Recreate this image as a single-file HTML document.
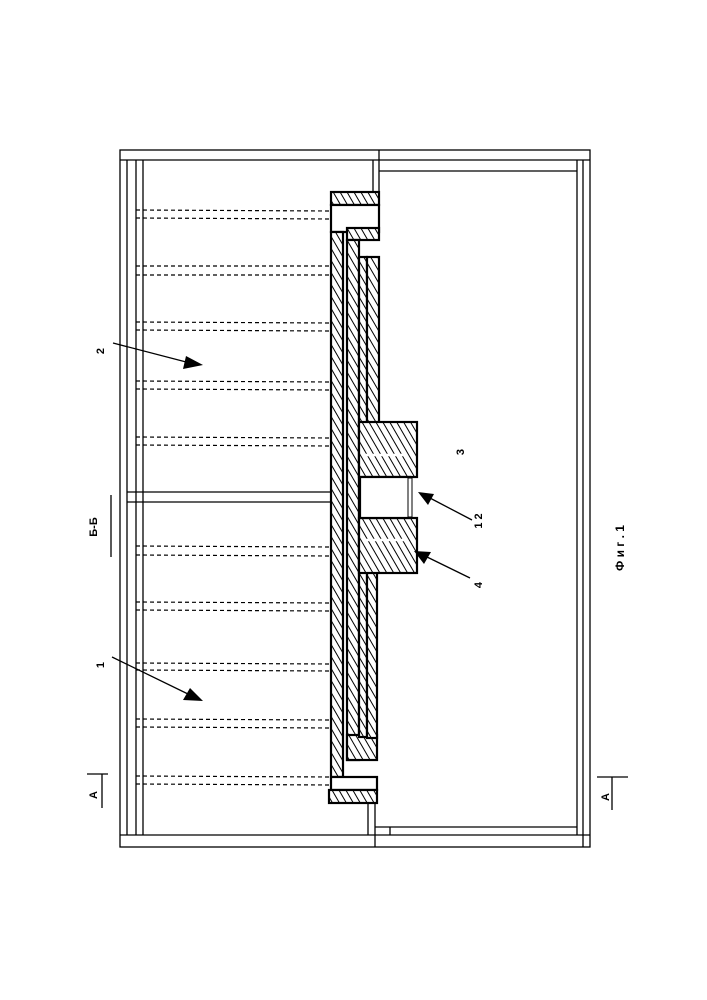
<!DOCTYPE html>
<html><head><meta charset="utf-8"><style>
html,body{margin:0;padding:0;background:#fff;}
svg{display:block;}
text{font-family:"Liberation Sans",sans-serif;font-weight:bold;fill:#000;}
</style></head><body>
<svg width="707" height="1000" viewBox="0 0 707 1000" xmlns="http://www.w3.org/2000/svg">
<defs>
<pattern id="h" patternUnits="userSpaceOnUse" width="6" height="6" patternTransform="rotate(-30)">
<rect width="6" height="6" fill="#fff"/><line x1="0" y1="0" x2="0" y2="6" stroke="#000" stroke-width="2"/>
</pattern>
</defs>
<g stroke="#000" stroke-width="1.3" fill="none">
<rect x="120" y="150" width="470" height="697"/>
<line x1="120" y1="160" x2="590" y2="160"/>
<line x1="120" y1="835" x2="590" y2="835"/>
<line x1="127" y1="160" x2="127" y2="835"/>
<line x1="136" y1="160" x2="136" y2="835"/>
<line x1="143" y1="160" x2="143" y2="835"/>
<line x1="577" y1="160" x2="577" y2="835"/>
<line x1="583" y1="160" x2="583" y2="847"/>
<line x1="379" y1="150" x2="379" y2="192"/>
<line x1="373" y1="160" x2="373" y2="192"/>
<line x1="379" y1="171" x2="577" y2="171"/>
<line x1="375" y1="827" x2="577" y2="827"/>
<line x1="368" y1="803" x2="368" y2="835"/>
<line x1="375" y1="803" x2="375" y2="847"/>
<line x1="390" y1="827" x2="390" y2="835"/>
<line x1="127" y1="492" x2="330" y2="492"/>
<line x1="127" y1="502" x2="330" y2="502"/>
</g>
<g stroke="#000" stroke-width="1.2" stroke-dasharray="4,3">
<line x1="136" y1="210" x2="330" y2="211"/><line x1="136" y1="218" x2="330" y2="219"/>
<line x1="136" y1="266" x2="330" y2="266"/><line x1="136" y1="275" x2="330" y2="275"/>
<line x1="136" y1="322" x2="330" y2="323"/><line x1="136" y1="330" x2="330" y2="331"/>
<line x1="136" y1="381" x2="330" y2="382"/><line x1="136" y1="389" x2="330" y2="390"/>
<line x1="136" y1="437" x2="330" y2="438"/><line x1="136" y1="445" x2="330" y2="446"/>
<line x1="136" y1="546" x2="330" y2="547"/><line x1="136" y1="555" x2="330" y2="556"/>
<line x1="136" y1="602" x2="330" y2="603"/><line x1="136" y1="610" x2="330" y2="611"/>
<line x1="136" y1="663" x2="330" y2="664"/><line x1="136" y1="670" x2="330" y2="671"/>
<line x1="136" y1="719" x2="330" y2="720"/><line x1="136" y1="727" x2="330" y2="728"/>
<line x1="136" y1="776" x2="330" y2="777"/><line x1="136" y1="784" x2="330" y2="785"/>
</g>
<g stroke="#000" stroke-width="2.2">
<rect x="331" y="192" width="48" height="13" fill="url(#h)"/>
<rect x="331" y="205" width="48" height="27" fill="#fff"/>
<rect x="331" y="232" width="12" height="545" fill="url(#h)"/>
<rect x="331" y="777" width="46" height="13" fill="#fff"/>
<rect x="329" y="790" width="48" height="13" fill="url(#h)"/>
<rect x="347" y="228" width="32" height="12" fill="url(#h)"/>
<rect x="347" y="240" width="12" height="520" fill="url(#h)"/>
<rect x="347" y="735" width="30" height="25" fill="url(#h)"/>
<rect x="359" y="257" width="8" height="480" fill="url(#h)"/>
<rect x="367" y="257" width="12" height="170" fill="url(#h)"/>
<rect x="367" y="563" width="10" height="175" fill="url(#h)"/>
<rect x="359" y="422" width="58" height="55" fill="url(#h)"/>
<rect x="359" y="518" width="58" height="55" fill="url(#h)"/>
<rect x="360" y="477" width="50" height="41" fill="#fff"/>
<rect x="408" y="478" width="4" height="39" fill="#fff" stroke-width="1"/>
<line x1="362" y1="455" x2="405" y2="455" stroke-width="2.5" stroke="#fff"/>
<line x1="362" y1="540" x2="405" y2="540" stroke-width="2.5" stroke="#fff"/>
</g>
<g stroke="#000" stroke-width="1.3">
<line x1="113" y1="343" x2="190" y2="363"/>
<line x1="112" y1="657" x2="190" y2="695"/>
<line x1="472" y1="520" x2="428" y2="497"/>
<line x1="470" y1="578" x2="425" y2="556"/>
<line x1="87" y1="774" x2="108" y2="774"/><line x1="102" y1="774" x2="102" y2="808"/>
<line x1="597" y1="777" x2="628" y2="777"/><line x1="612" y1="777" x2="612" y2="810"/>
<line x1="111" y1="495" x2="111" y2="557"/>
</g>
<g fill="#000">
<polygon points="203,365 186,356 183,369"/>
<polygon points="203,701 190,688 183,700"/>
<polygon points="418,492 434,494 428,505"/>
<polygon points="414,551 431,552 424,564"/>
</g>
<g font-size="11">
<text transform="translate(104,351) rotate(-90)" text-anchor="middle">2</text>
<text transform="translate(104,665) rotate(-90)" text-anchor="middle">1</text>
<text transform="translate(464,452) rotate(-90)" text-anchor="middle">3</text>
<text transform="translate(482,521) rotate(-90)" text-anchor="middle">1 2</text>
<text transform="translate(482,585) rotate(-90)" text-anchor="middle">4</text>
<text transform="translate(97,527) rotate(-90)" text-anchor="middle">Б-Б</text>
<text transform="translate(97,795) rotate(-90)" text-anchor="middle">А</text>
<text transform="translate(609,797) rotate(-90)" text-anchor="middle">А</text>
<text transform="translate(624,548) rotate(-90)" text-anchor="middle" font-size="12">Ф и г . 1</text>
</g>
</svg>
</body></html>
